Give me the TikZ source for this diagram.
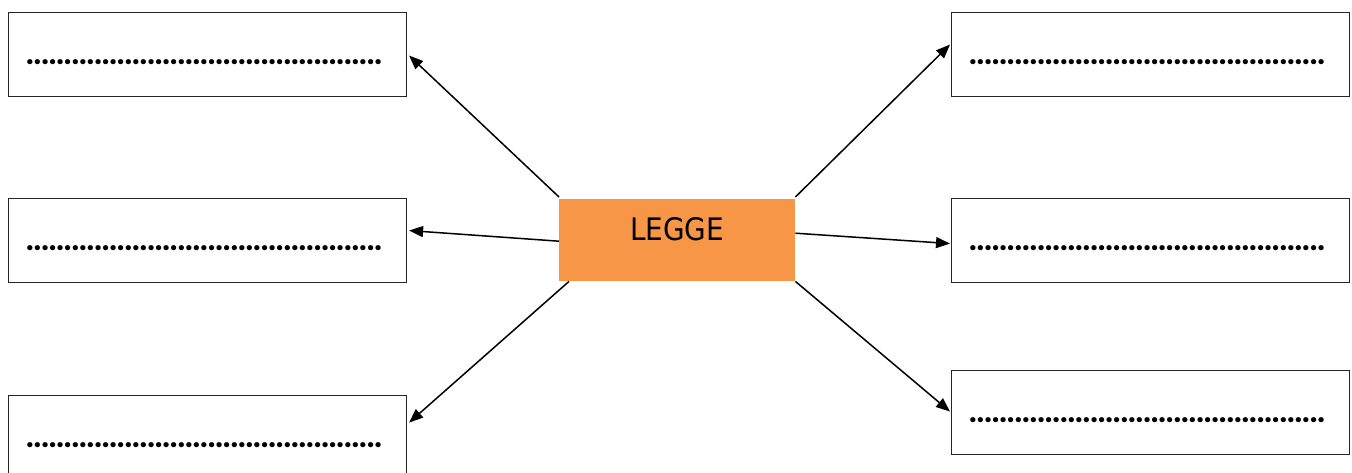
\documentclass[tikz,border=0pt]{standalone}
\usepackage{fontspec}
\setmainfont{DejaVu Sans}
\newfontfamily\condfont{DejaVu Sans Condensed}
\newfontfamily\dotfont{Lato Black}
\usetikzlibrary{arrows.meta}
\definecolor{legorange}{HTML}{F79646}
\tikzset{
  x=1pt, y=-1pt,
  boxnode/.style={draw=black!85, line width=1.1pt, minimum width=398pt, minimum height=84pt, inner sep=0pt, anchor=north west},
  dotline/.style={font=\dotfont\fontsize{30}{34}\selectfont, inner sep=0pt, anchor=base west},
  centerbox/.style={fill=legorange, minimum width=236pt, minimum height=82pt, inner sep=0pt, anchor=north west},
  conn/.style={line width=1.5pt, -{Triangle[length=14pt,width=11pt]}}
}
\newcommand{\onedot}{\makebox[7.57pt]{.}}
\newcommand{\dotrow}{\count255=0 \loop\onedot\advance\count255 by 1 \ifnum\count255<47 \repeat}
\begin{document}
\begin{tikzpicture}
\useasboundingbox (0,0) rectangle (1352,472);
% boxes
\node[boxnode] (lt) at (8,12) {};
\node[boxnode] (lm) at (8,198) {};
\node[boxnode] (lb) at (8,395) {};
\node[boxnode] (rt) at (951,12) {};
\node[boxnode] (rm) at (951,198) {};
\node[boxnode] (rb) at (951,370) {};
% dot rows
\node[dotline] (ltd) at ([xshift=18pt,yshift=-10pt]lt.west) {\dotrow};
\node[dotline] (lmd) at ([xshift=18pt,yshift=-10pt]lm.west) {\dotrow};
\node[dotline] (lbd) at ([xshift=18pt,yshift=-10pt]lb.west) {\dotrow};
\node[dotline] (rtd) at ([xshift=18pt,yshift=-10pt]rt.west) {\dotrow};
\node[dotline] (rmd) at ([xshift=18pt,yshift=-10pt]rm.west) {\dotrow};
\node[dotline] (rbd) at ([xshift=18pt,yshift=-10pt]rb.west) {\dotrow};
% center
\node[centerbox] (c) at (559,199) {};
\node[font=\condfont\fontsize{31}{34}\selectfont, inner sep=0pt] (ct) at ([yshift=11pt]c.center) {LEGGE};
% connectors
\draw[conn] ([yshift=2pt]c.north west) -- ([xshift=2pt,yshift=-1pt]lt.east);
\draw[conn] ([yshift=-1pt]c.west) -- ([xshift=2pt,yshift=10pt]lm.east);
\draw[conn] ([xshift=10pt]c.south west) -- ([xshift=2pt,yshift=15pt]lb.east);
\draw[conn] ([yshift=2pt]c.north east) -- ([xshift=-1pt,yshift=10pt]rt.west);
\draw[conn] ([yshift=7pt]c.east) -- ([xshift=-1pt,yshift=-3pt]rm.west);
\draw[conn] (c.south east) -- ([xshift=-1pt,yshift=1pt]rb.west);
\end{tikzpicture}
\end{document}
